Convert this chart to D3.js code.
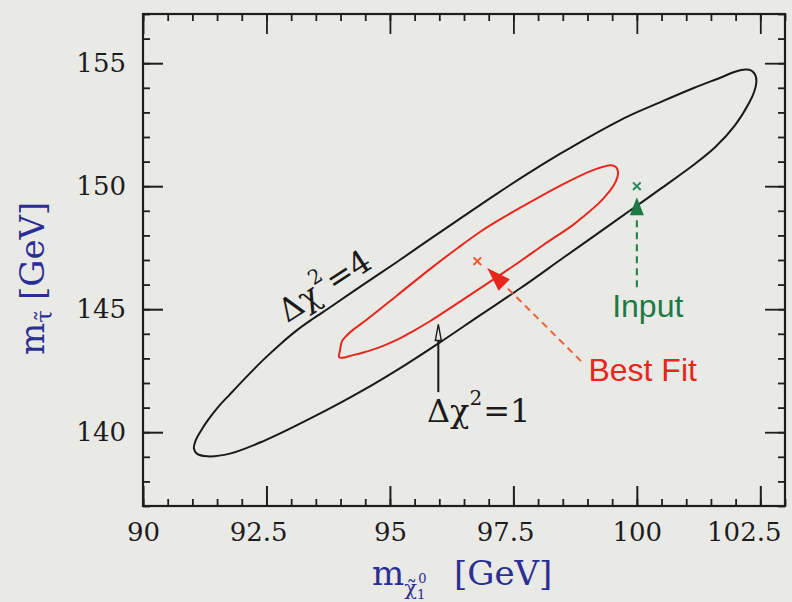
<!DOCTYPE html>
<html>
<head>
<meta charset="utf-8">
<script src="https://cdn.jsdelivr.net/npm/d3@7"></script>
<style>
    html, body { margin: 0; padding: 0; background: #e9e9e6; }
    svg { display: block; }
</style>
</head>
<body>
<div class="chart"></div>
<script>
"use strict";

// Axis ranges and labelled ticks (GeV)
var xDomain = [90, 103];
var yDomain = [137, 157];
var xTickValues = [90, 92.5, 95, 97.5, 100, 102.5];
var yTickValues = [140, 145, 150, 155];

// Delta chi^2 = 4 contour as [m_chi, m_stau]
var contour4 = [
    [91.03, 139.35], [91.07, 139.68], [91.18, 140.08], [91.30, 140.45], [91.52, 141.02],
    [91.76, 141.54], [92.09, 142.24], [92.43, 142.93], [92.78, 143.58], [93.12, 144.15],
    [93.44, 144.61], [93.79, 145.08], [94.46, 146.00], [95.15, 146.93], [95.81, 147.85],
    [96.42, 148.68], [97.17, 149.70], [97.84, 150.57], [98.45, 151.32], [99.06, 152.03],
    [99.81, 152.83], [100.47, 153.41], [101.14, 153.98], [101.69, 154.41], [101.99, 154.65],
    [102.20, 154.74], [102.32, 154.70], [102.40, 154.51], [102.42, 154.23], [102.38, 153.86],
    [102.28, 153.41], [101.99, 152.48], [101.59, 151.59], [101.14, 150.85], [100.47, 149.88],
    [99.87, 149.02], [99.16, 148.01], [98.51, 147.09], [97.64, 145.85], [96.83, 144.76],
    [96.02, 143.66], [95.33, 142.76], [94.46, 141.71], [93.44, 140.61], [92.43, 139.63],
    [91.76, 139.13], [91.30, 139.02], [91.09, 139.13]
];

// Delta chi^2 = 1 contour
var contour1 = [
    [93.97, 143.05], [93.99, 143.33], [94.03, 143.70], [94.13, 143.94], [94.27, 144.19],
    [94.46, 144.47], [95.15, 145.57], [95.81, 146.63], [96.38, 147.50], [96.83, 148.15],
    [97.17, 148.58], [97.84, 149.35], [98.51, 150.08], [99.06, 150.61], [99.32, 150.79],
    [99.48, 150.85], [99.58, 150.77], [99.62, 150.57], [99.60, 150.33], [99.52, 150.00],
    [99.36, 149.59], [99.20, 149.25], [98.95, 148.82], [98.71, 148.43], [98.10, 147.60],
    [97.64, 146.95], [97.09, 146.20], [96.48, 145.39], [95.81, 144.51], [95.47, 144.11],
    [95.15, 143.76], [94.80, 143.46], [94.46, 143.24], [94.19, 143.10], [94.05, 143.03]
];

// Fitted and input mass points
var bestFit = [96.77, 146.95];
var inputPoint = [100, 150];

// Annotation arrows as [tail, tip]
var bestFitArrow = [[98.87, 142.89], [96.97, 146.67]];
var inputArrow = [[100, 145.89], [100, 149.55]];
var chi1Pointer = [[95.98, 141.63], [95.98, 144.38]];

window.onload = renderChart();

// triangle arrow head from pixel points, returns path and the base point
function arrowHead(from, tip, length, halfWidth) {
    var dx = tip[0] - from[0], dy = tip[1] - from[1];
    var len = Math.sqrt(dx * dx + dy * dy);
    var ux = dx / len, uy = dy / len;
    var bx = tip[0] - ux * length, by = tip[1] - uy * length;
    var path = "M" + tip[0] + "," + tip[1] +
        "L" + (bx - uy * halfWidth) + "," + (by + ux * halfWidth) +
        "L" + (bx + uy * halfWidth) + "," + (by - ux * halfWidth) + "Z";
    return { path: path, base: [bx, by] };
}

function renderChart() {
    var width = 792;
    var height = 602;
    var margin = { top: 14, right: 7, bottom: 96, left: 143 };
    var innerW = width - margin.left - margin.right;
    var innerH = height - margin.top - margin.bottom;

    var frameColor = "#1e1e1e";
    var blackLine = "#1a1a1a";
    var redLine = "#e8261c";
    var redDash = "#f0603c";
    var greenColor = "#1d7a45";
    var blueColor = "#2b2e92";
    var serif = "DejaVu Serif, serif";
    var sans = "Liberation Sans, Arial, sans-serif";

    var x = d3.scaleLinear().domain(xDomain).range([0, innerW]);
    var y = d3.scaleLinear().domain(yDomain).range([innerH, 0]);

    var svg = d3.select(".chart").append("svg")
        .attr("width", width)
        .attr("height", height);

    svg.append("rect")
        .attr("width", width)
        .attr("height", height)
        .attr("fill", "#e9e9e6");

    var g = svg.append("g")
        .attr("transform", "translate(" + margin.left + "," + margin.top + ")");

    // Minor ticks on all four sides
    var minorX = x.ticks(26);
    var minorY = y.ticks(20);
    function tickAxis(axis, transform, values, size) {
        var a = g.append("g")
            .attr("transform", transform)
            .call(axis.tickValues(values).tickSize(-size).tickSizeOuter(0).tickFormat(""));
        a.select(".domain").remove();
        a.selectAll(".tick line").attr("stroke", frameColor).attr("stroke-width", 1.8);
        return a;
    }
    tickAxis(d3.axisBottom(x), "translate(0," + innerH + ")", minorX, 7);
    tickAxis(d3.axisTop(x), "translate(0,0)", minorX, 7);
    tickAxis(d3.axisLeft(y), "translate(0,0)", minorY, 7);
    tickAxis(d3.axisRight(y), "translate(" + innerW + ",0)", minorY, 7);
    tickAxis(d3.axisTop(x), "translate(0,0)", xTickValues, 20);
    tickAxis(d3.axisRight(y), "translate(" + innerW + ",0)", yTickValues, 20);

    // Bottom axis with labels
    var xAxis = g.append("g")
        .attr("transform", "translate(0," + innerH + ")")
        .call(d3.axisBottom(x).tickValues(xTickValues).tickSize(-20).tickSizeOuter(0)
            .tickPadding(17).tickFormat(function (d) { return String(d); }));
    xAxis.select(".domain").remove();
    xAxis.attr("font-family", serif).attr("font-size", 26);
    xAxis.selectAll(".tick line").attr("stroke", frameColor).attr("stroke-width", 2);
    xAxis.selectAll(".tick text").attr("fill", "#1c1c1c");

    // decimal labels sit with the point on the tick
    xAxis.selectAll(".tick text").each(function (d) {
        var label = String(d);
        var dot = label.indexOf(".");
        if (dot < 0) return;
        var t = d3.select(this);
        t.text(label.slice(0, dot));
        var intWidth = this.getComputedTextLength();
        t.text(label.slice(0, dot + 1));
        var dotWidth = this.getComputedTextLength() - intWidth;
        t.text(label).attr("text-anchor", "start").attr("x", -intWidth - dotWidth / 2);
    });

    // Left axis with labels
    var yAxis = g.append("g")
        .call(d3.axisLeft(y).tickValues(yTickValues).tickSize(-20).tickSizeOuter(0)
            .tickPadding(17).tickFormat(function (d) { return String(d); }));
    yAxis.select(".domain").remove();
    yAxis.attr("font-family", serif).attr("font-size", 26);
    yAxis.selectAll(".tick line").attr("stroke", frameColor).attr("stroke-width", 2);
    yAxis.selectAll(".tick text").attr("fill", "#1c1c1c");

    // Frame
    g.append("rect")
        .attr("width", innerW)
        .attr("height", innerH)
        .attr("fill", "none")
        .attr("stroke", frameColor)
        .attr("stroke-width", 2.2);

    // Contours
    var contourLine = d3.line()
        .x(function (d) { return x(d[0]); })
        .y(function (d) { return y(d[1]); })
        .curve(d3.curveCatmullRomClosed.alpha(0.5));

    g.append("path")
        .datum(contour4)
        .attr("d", contourLine)
        .attr("fill", "none")
        .attr("stroke", blackLine)
        .attr("stroke-width", 2);

    g.append("path")
        .datum(contour1)
        .attr("d", contourLine)
        .attr("fill", "none")
        .attr("stroke", redLine)
        .attr("stroke-width", 2);

    // Best fit arrow (dashed red)
    var bfTail = [x(bestFitArrow[0][0]), y(bestFitArrow[0][1])];
    var bfTip = [x(bestFitArrow[1][0]), y(bestFitArrow[1][1])];
    var bfHead = arrowHead(bfTail, bfTip, 24, 8);
    g.append("line")
        .attr("x1", bfTail[0]).attr("y1", bfTail[1])
        .attr("x2", bfHead.base[0]).attr("y2", bfHead.base[1])
        .attr("stroke", redDash)
        .attr("stroke-width", 2)
        .attr("stroke-dasharray", "7,5");
    g.append("path")
        .attr("d", bfHead.path)
        .attr("fill", redLine);

    // Input arrow (dashed green)
    var inTail = [x(inputArrow[0][0]), y(inputArrow[0][1])];
    var inTip = [x(inputArrow[1][0]), y(inputArrow[1][1])];
    var inHead = arrowHead(inTail, inTip, 18, 7);
    g.append("line")
        .attr("x1", inTail[0]).attr("y1", inTail[1])
        .attr("x2", inHead.base[0]).attr("y2", inHead.base[1])
        .attr("stroke", greenColor)
        .attr("stroke-width", 2)
        .attr("stroke-dasharray", "7,5");
    g.append("path")
        .attr("d", inHead.path)
        .attr("fill", greenColor);

    // Delta chi^2 = 1 pointer with open head
    var pTail = [x(chi1Pointer[0][0]), y(chi1Pointer[0][1])];
    var pTip = [x(chi1Pointer[1][0]), y(chi1Pointer[1][1])];
    var pHead = arrowHead(pTail, pTip, 16, 3);
    g.append("line")
        .attr("x1", pTail[0]).attr("y1", pTail[1])
        .attr("x2", pHead.base[0]).attr("y2", pHead.base[1])
        .attr("stroke", blackLine)
        .attr("stroke-width", 2);
    g.append("path")
        .attr("d", pHead.path)
        .attr("fill", "none")
        .attr("stroke", blackLine)
        .attr("stroke-width", 1.4);

    // Point markers
    var marker = d3.symbol().type(d3.symbolTimes).size(40);
    g.append("path")
        .attr("d", marker)
        .attr("transform", "translate(" + x(bestFit[0]) + "," + y(bestFit[1]) + ")")
        .attr("fill", "none")
        .attr("stroke", "#ee5a2a")
        .attr("stroke-width", 2);
    g.append("path")
        .attr("d", marker)
        .attr("transform", "translate(" + x(inputPoint[0]) + "," + y(inputPoint[1]) + ")")
        .attr("fill", "none")
        .attr("stroke", "#2a8a62")
        .attr("stroke-width", 2);

    // Contour labels
    function chiLabel(parent, value) {
        var t = parent.append("text")
            .attr("font-family", serif)
            .attr("font-size", 32)
            .attr("fill", "#1a1a1a");
        t.append("tspan").text("\u0394\u03c7");
        t.append("tspan").attr("font-size", 20).attr("dy", -17).text("2");
        t.append("tspan").attr("dy", 17).attr("dx", 1).text("=" + value);
        return t;
    }
    var chi4Group = g.append("g")
        .attr("transform", "translate(" + x(92.92) + "," + y(144.43) + ") rotate(-33)");
    chiLabel(chi4Group, 4);
    var chi1Group = g.append("g")
        .attr("transform", "translate(" + x(95.75) + "," + y(140.41) + ")");
    chiLabel(chi1Group, 1);

    g.append("text")
        .attr("x", x(99.50))
        .attr("y", y(144.67))
        .attr("font-family", sans)
        .attr("font-size", 32)
        .attr("fill", greenColor)
        .text("Input");

    g.append("text")
        .attr("x", x(99.02))
        .attr("y", y(142.07))
        .attr("font-family", sans)
        .attr("font-size", 32)
        .attr("fill", redLine)
        .text("Best Fit");

    // X axis title
    var xTitle = svg.append("text")
        .attr("x", 372)
        .attr("y", 585)
        .attr("font-family", serif)
        .attr("font-size", 34)
        .attr("fill", blueColor);
    xTitle.append("tspan").text("m");
    xTitle.append("tspan").attr("font-size", 21).attr("dy", 10).text("\u03c7\u0303");
    xTitle.append("tspan").attr("font-size", 13).attr("dy", 4).text("1");
    xTitle.append("tspan").attr("font-size", 13).attr("dx", -7).attr("dy", -16).text("0");
    xTitle.append("tspan").attr("x", 454).attr("y", 585).text("[GeV]");

    // Y axis title
    var yTitle = svg.append("text")
        .attr("transform", "translate(44,355) rotate(-90)")
        .attr("font-family", serif)
        .attr("font-size", 34)
        .attr("fill", blueColor);
    yTitle.append("tspan").text("m");
    yTitle.append("tspan").attr("font-size", 23).attr("dy", 8).text("\u03c4\u0303");
    yTitle.append("tspan").attr("x", 55).attr("y", 0).text("[GeV]");
}
</script>
</body>
</html>
